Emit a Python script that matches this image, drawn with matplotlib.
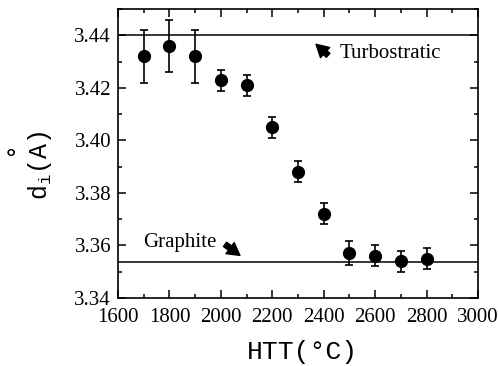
import matplotlib
matplotlib.use('Agg')
import matplotlib.pyplot as plt
from matplotlib.ticker import MultipleLocator

plt.rcParams['font.family'] = ['Liberation Serif', 'DejaVu Serif']
plt.rcParams['mathtext.fontset'] = 'custom'
plt.rcParams['mathtext.rm'] = 'Liberation Mono'
plt.rcParams['mathtext.it'] = 'Liberation Mono'

# heat treatment temperature (C) and interlayer spacing (A)
htt = [1700, 1800, 1900, 2000, 2100, 2200, 2300, 2400, 2500, 2600, 2700, 2800]
d_i = [3.432, 3.436, 3.432, 3.423, 3.421, 3.405, 3.388, 3.372, 3.357, 3.356, 3.354, 3.355]
err = [0.010, 0.010, 0.010, 0.004, 0.004, 0.004, 0.004, 0.004, 0.0045, 0.004, 0.004, 0.004]
turbostratic = 3.440
graphite = 3.3535

fig = plt.figure(figsize=(4.98, 3.66), dpi=100)
ax = fig.add_axes([0.237, 0.186, 0.723, 0.789])

ax.errorbar(htt, d_i, yerr=err, fmt='o', color='black', markersize=8.5,
            capsize=2.8, elinewidth=1.2, capthick=1.2)
ax.axhline(turbostratic, color='black', lw=1.1)
ax.axhline(graphite, color='black', lw=1.1)

ax.set_xlim(1600, 3000)
ax.set_ylim(3.34, 3.45)
ax.set_xticks(range(1600, 3001, 200))
ax.set_yticks([3.34, 3.36, 3.38, 3.40, 3.42, 3.44])
ax.xaxis.set_minor_locator(MultipleLocator(100))
ax.yaxis.set_minor_locator(MultipleLocator(0.01))
ax.tick_params(which='both', direction='in', top=True, right=True, labelsize=15, width=1.1)
ax.tick_params(which='major', length=6)
ax.tick_params(which='minor', length=3)
ax.tick_params(axis='x', pad=7)
ax.tick_params(axis='y', pad=5)
for s in ax.spines.values():
    s.set_linewidth(1.2)

# axis labels placed like the original scan
fig.text(0.608, 0.038, 'HTT(°C)', family='Liberation Mono', fontsize=19,
         ha='center', va='center')
fig.text(0.080, 0.549, r'd$_\mathrm{i}$(A)', family='Liberation Mono', fontsize=18,
         ha='center', va='center', rotation=90)
fig.text(0.030, 0.598, '°', family='Liberation Mono', fontsize=18,
         ha='center', va='center', rotation=90)

arrow = dict(arrowstyle='simple,head_width=0.9,head_length=0.8,tail_width=0.35',
             color='black', mutation_scale=11, shrinkA=0, shrinkB=0)
ax.text(2463, 3.4331, 'Turbostratic', fontsize=15, va='center')
ax.annotate('', xy=(2370, 3.4366), xytext=(2417, 3.4324), arrowprops=arrow)
ax.text(1697, 3.3611, 'Graphite', fontsize=15, va='center')
ax.annotate('', xy=(2074, 3.3562), xytext=(2016, 3.3604), arrowprops=arrow)

fig.savefig('out.png', dpi=100)
